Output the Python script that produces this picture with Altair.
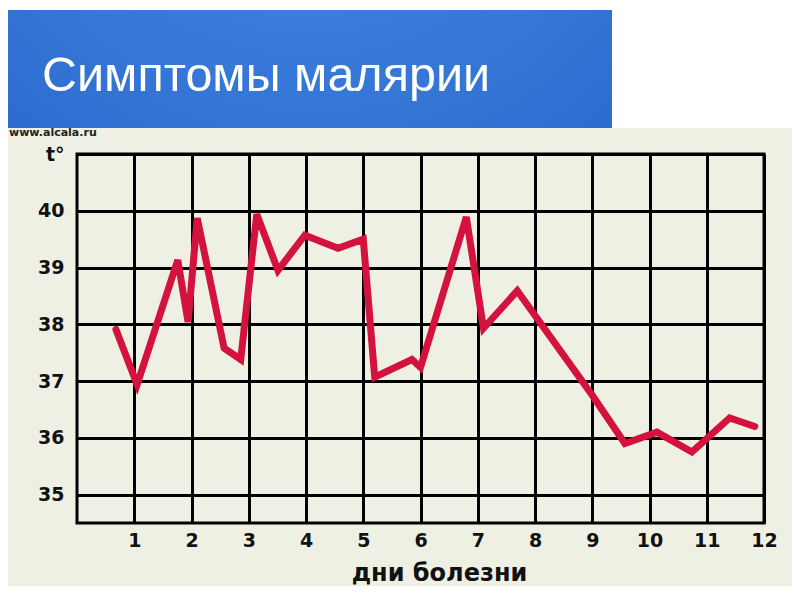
import altair as alt
import pandas as pd

# data
days = [0.68, 1.05, 1.76, 1.94, 2.10, 2.57, 2.86, 3.14, 3.51, 3.98, 4.56, 5.0,
        5.2, 5.85, 6.0, 6.8, 7.1, 7.69, 9.0, 9.57, 10.13, 10.74, 11.4, 11.84]
temps = [37.91, 36.94, 39.13, 38.04, 39.87, 37.58, 37.38, 39.94, 38.95, 39.57, 39.34, 39.5,
         37.07, 37.38, 37.24, 39.89, 37.93, 38.59, 36.75, 35.9, 36.1, 35.75, 36.35, 36.2]
x_ticks = [1, 2, 3, 4, 5, 6, 7, 8, 9, 10, 11, 12]
y_ticks = [35, 36, 37, 38, 39, 40, 41]
title_text = "Симптомы малярии"
source_text = "www.alcala.ru"
x_title = "дни болезни"

df = pd.DataFrame({"day": days, "temp": temps})
one = alt.Data(values=[{"a": 1}])

W, H = 687, 369
PL, PT = 69, 146
AX_FONT = "DejaVu Sans"

x_enc = alt.X(
    "day:Q",
    scale=alt.Scale(domain=[0, 12], nice=False, zero=False),
    axis=alt.Axis(
        values=x_ticks, grid=True, gridColor="#000000", gridWidth=3, gridOpacity=1,
        domain=False, ticks=False, labelFontSize=19, labelFontWeight="bold",
        labelColor="#111111", labelFont=AX_FONT, labelPadding=8,
        title=x_title, titleFontSize=24, titleFontWeight="bold", titleColor="#111111",
        titleFont=AX_FONT, titlePadding=11, titleX=362, labelFlush=False,
    ),
)
y_enc = alt.Y(
    "temp:Q",
    scale=alt.Scale(domain=[34.5, 41], nice=False, zero=False),
    axis=alt.Axis(
        values=y_ticks, grid=True, gridColor="#000000", gridWidth=3, gridOpacity=1,
        domain=False, ticks=False, labelFontSize=19, labelFontWeight="bold",
        labelColor="#111111", labelFont=AX_FONT, labelPadding=13,
        labelExpr="datum.value == 41 ? 't°' : datum.label", title=None,
    ),
)

white_top = alt.Chart(one).mark_rect(color="#FFFFFF").encode(
    x=alt.value(-PL), x2=alt.value(W + 40), y=alt.value(-PT), y2=alt.value(-26)
)
banner = alt.Chart(one).mark_rect(
    color=alt.RadialGradient(
        gradient="radial",
        stops=[alt.GradientStop(offset=0, color="#4B90E9"),
               alt.GradientStop(offset=1, color="#2766CA")],
        x1=0.5, y1=0, r1=0, x2=0.5, y2=0, r2=0.9,
    )
).encode(x=alt.value(-PL), x2=alt.value(535), y=alt.value(-144), y2=alt.value(-26))
title = alt.Chart(one).mark_text(
    text=title_text, color="#FFFFFF", fontSize=48.5, font="Liberation Sans",
    align="left", baseline="middle",
).encode(x=alt.value(-35), y=alt.value(-78))
source = alt.Chart(one).mark_text(
    text=source_text, color="#222222", fontSize=11, fontWeight="bold",
    font="DejaVu Sans", align="left", baseline="middle",
).encode(x=alt.value(-68), y=alt.value(-21))

line = alt.Chart(df).mark_line(
    color="#D3123D", strokeWidth=7, strokeCap="round", strokeJoin="miter", clip=False
).encode(x=x_enc, y=y_enc, order="day:Q")

chart = alt.layer(white_top, banner, title, source, line).properties(
    width=W, height=H,
    autosize=alt.AutoSizeParams(type="none"),
    padding={"left": PL, "top": PT, "right": 28, "bottom": 63},
    background="#EFF0E4",
).configure_view(stroke="#000000", strokeWidth=3)

chart.save("out.html", embed_options={"renderer": "svg", "actions": False})
